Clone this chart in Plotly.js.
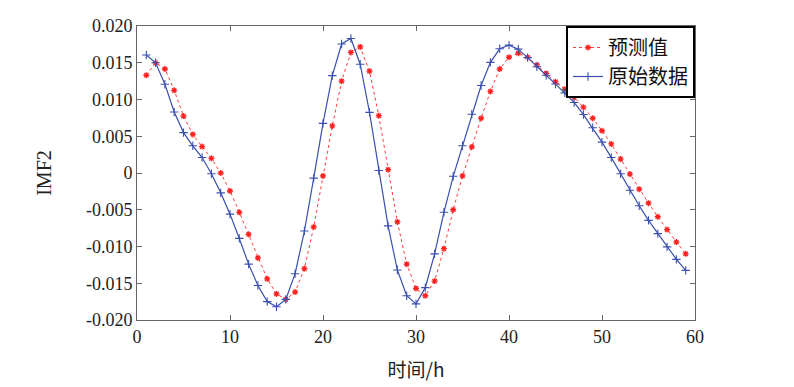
<!DOCTYPE html>
<html>
<head>
<meta charset="utf-8">
<script src="https://cdn.plot.ly/plotly-3.0.1.min.js"></script>
<style>html,body{margin:0;padding:0;background:#fff;}#chart{width:794px;height:387px;}</style>
</head>
<body>
<div id="chart"></div>
<script>
const hours = [];
for (let i = 1; i <= 59; i++) hours.push(i);

// 预测值 (predicted), values in units of 0.001
const predicted = [13.3, 15.0, 14.15, 11.25, 7.75, 5.25, 3.6, 2.0, 0.0, -2.45,
  -5.35, -8.35, -11.55, -14.4, -16.45, -17.2, -16.2, -13.0, -7.35, -0.4,
  6.4, 12.5, 16.4, 17.15, 13.85, 7.8, 0.45, -6.65, -12.4, -15.7,
  -16.7, -14.7, -10.3, -5.0, -0.4, 3.55, 7.45, 11.1, 14.15, 15.75,
  16.3, 15.75, 14.7, 13.55, 12.4, 11.4, 10.3, 8.95, 7.45, 5.75,
  3.95, 1.9, -0.15, -2.2, -4.1, -5.95, -7.7, -9.4, -11.0];

// 原始数据 (original data), values in units of 0.001
const original = [16.05, 15.0, 12.07, 8.3, 5.5, 3.7, 2.1, -0.1, -2.7, -5.6,
  -8.9, -12.4, -15.3, -17.5, -18.2, -17.2, -13.7, -7.9, -0.7, 6.75,
  13.25, 17.55, 18.3, 14.8, 8.25, 0.35, -7.2, -13.2, -16.7, -17.8,
  -15.6, -11.0, -5.35, -0.45, 3.7, 8.0, 11.9, 15.05, 16.9, 17.4,
  16.85, 15.7, 14.45, 13.3, 12.1, 10.9, 9.6, 7.95, 6.15, 4.2,
  2.1, -0.1, -2.35, -4.45, -6.45, -8.25, -10.05, -11.75, -13.25];

const xTicks = [0, 10, 20, 30, 40, 50, 60];
const yTickVals = [0.020, 0.015, 0.010, 0.005, 0, -0.005, -0.010, -0.015, -0.020];
const yTickText = ['0.020', '0.015', '0.010', '0.005', '0', '-0.005', '-0.010', '-0.015', '-0.020'];

const scale = v => v / 1000;
const serif = 'Liberation Serif';

const traces = [
  {
    x: hours, y: predicted.map(scale), name: '预测值', type: 'scatter', mode: 'lines+markers',
    line: {color: '#ff3b3b', width: 1, dash: 'dot'},
    marker: {symbol: 'asterisk-open', size: 5, color: '#ff2020', line: {color: '#ff2020', width: 1.3}}
  },
  {
    x: hours, y: original.map(scale), name: '原始数据', type: 'scatter', mode: 'lines+markers',
    line: {color: '#3a4fb0', width: 1.2},
    marker: {symbol: 'cross-thin-open', size: 6, color: '#3a4fb0', line: {color: '#3a4fb0', width: 1.1}}
  }
];

const axisCommon = {
  showgrid: false, zeroline: false, showline: true, linecolor: '#666', linewidth: 1,
  mirror: 'ticks', ticks: 'inside', ticklen: 5, tickcolor: '#666',
  tickfont: {family: serif, size: 18, color: '#222'}
};

const layout = {
  width: 794, height: 387,
  margin: {l: 137, r: 99, t: 26, b: 67},
  paper_bgcolor: '#fff', plot_bgcolor: '#fff',
  showlegend: true,
  legend: {
    x: 1, xanchor: 'right', y: 1, yanchor: 'top',
    bordercolor: '#000', borderwidth: 2, bgcolor: '#fff',
    font: {family: 'Noto Sans CJK SC', size: 20, color: '#111'},
    tracegroupgap: 0, itemwidth: 30
  },
  xaxis: Object.assign({}, axisCommon, {
    range: [0, 60], tickvals: xTicks,
    title: {text: '时间/h', font: {family: 'Noto Sans CJK SC', size: 19, color: '#222'}, standoff: 18}
  }),
  yaxis: Object.assign({}, axisCommon, {
    range: [-0.020, 0.020], tickvals: yTickVals, ticktext: yTickText,
    title: {text: 'IMF2', font: {family: serif, size: 20, color: '#222'}, standoff: 28}
  })
};

Plotly.newPlot('chart', traces, layout, {displayModeBar: false, staticPlot: true});
</script>
</body>
</html>
